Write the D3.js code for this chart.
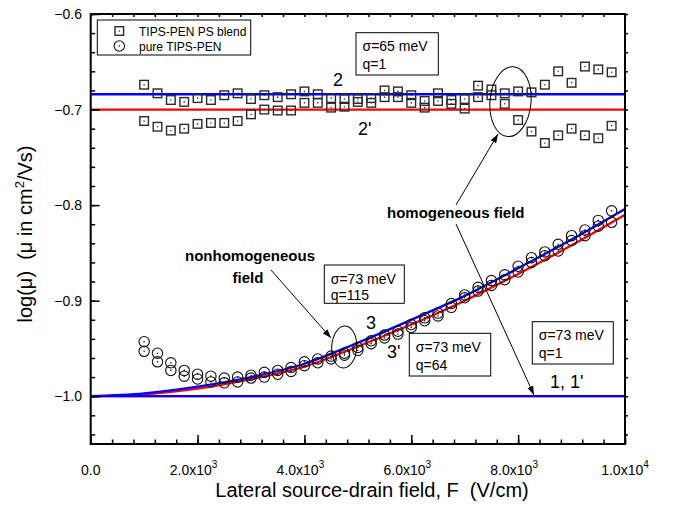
<!DOCTYPE html>
<html>
<head>
<meta charset="utf-8">
<script src="https://cdn.jsdelivr.net/npm/d3@7/dist/d3.min.js"></script>
<style>
body { margin: 0; background: #fff; }
svg { font-family: "Liberation Sans", Arial, sans-serif; }
</style>
</head>
<body>
<svg id="chart" width="673" height="505"></svg>
<script>
// measured points (field in V/cm, log mobility)
const fieldPts = [1000, 1250, 1500, 1750, 2000, 2250, 2500, 2750, 3000, 3250, 3500, 3750,
                  4000, 4250, 4500, 4750, 5000, 5250, 5500, 5750, 6000, 6250, 6500, 6750,
                  7000, 7250, 7500, 7750, 8000, 8250, 8500, 8750, 9000, 9250, 9500, 9750]

const blendUpper = [-0.674, -0.683, -0.690, -0.692, -0.688, -0.690, -0.685, -0.683, -0.689, -0.685, -0.687, -0.684,
                    -0.681, -0.684, -0.688, -0.689, -0.689, -0.688, -0.680, -0.681, -0.685, -0.691, -0.683, -0.690,
                    -0.689, -0.675, -0.679, -0.683, -0.681, -0.682, -0.674, -0.660, -0.672, -0.655, -0.658, -0.661]
const blendLower = [-0.712, -0.718, -0.722, -0.720, -0.715, -0.714, -0.714, -0.712, -0.705, -0.700, -0.701, -0.701,
                    -0.693, -0.693, -0.698, -0.697, -0.692, -0.693, -0.687, -0.687, -0.693, -0.698, -0.691, -0.694,
                    -0.699, -0.687, -0.685, -0.694, -0.711, -0.723, -0.735, -0.727, -0.720, -0.727, -0.730, -0.717]

const pureUpper = [-0.943, -0.955, -0.965, -0.973, -0.977, -0.979, -0.981, -0.980, -0.978, -0.975, -0.973, -0.970,
                   -0.964, -0.961, -0.958, -0.955, -0.949, -0.942, -0.936, -0.932, -0.925, -0.918, -0.913, -0.903,
                   -0.894, -0.886, -0.879, -0.873, -0.864, -0.855, -0.849, -0.841, -0.832, -0.826, -0.816, -0.806]
const pureLower = [-0.953, -0.964, -0.973, -0.979, -0.982, -0.985, -0.986, -0.985, -0.981, -0.980, -0.977, -0.974,
                   -0.968, -0.965, -0.961, -0.957, -0.952, -0.945, -0.939, -0.935, -0.928, -0.921, -0.916, -0.907,
                   -0.897, -0.890, -0.884, -0.878, -0.870, -0.860, -0.853, -0.848, -0.837, -0.832, -0.822, -0.818]

// model curves
const fitField = [0, 1000, 2000, 3000, 4000, 5000, 6000, 7000, 8000, 9000, 10000]
const fit3  = [-1.000, -0.997, -0.990, -0.980, -0.966, -0.944, -0.920, -0.895, -0.866, -0.836, -0.804]
const fit3p = [-1.000, -0.998, -0.992, -0.982, -0.969, -0.948, -0.925, -0.900, -0.872, -0.842, -0.810]
const flatEnds = [0, 10000]
const flat2 = -0.684
const flat2p = -0.700
const flat1 = -1.000

// ticks
const xMajor = [0, 2000, 4000, 6000, 8000, 10000]
const xMant = ["0.0", "2.0x10", "4.0x10", "6.0x10", "8.0x10", "1.0x10"]
const xExp = ["", "3", "3", "3", "3", "4"]
const yMajor = [-1.0, -0.9, -0.8, -0.7, -0.6]
const yLabels = ["-1.0", "-0.9", "-0.8", "-0.7", "-0.6"]

const svg = d3.select("#chart")
const x = d3.scaleLinear().domain([0, 10000]).range([90.7, 625])
const y = d3.scaleLinear().domain([-1.05, -0.6]).range([444, 14])

svg.append("defs").append("marker")
  .attr("id", "arr")
  .attr("viewBox", "0 0 10 10")
  .attr("refX", 10).attr("refY", 5)
  .attr("markerWidth", 9).attr("markerHeight", 9)
  .attr("markerUnits", "userSpaceOnUse")
  .attr("orient", "auto")
  .append("path").attr("d", "M0,1.5 L10,5 L0,8.5 Z").attr("fill", "#000")

// lines
const line = d3.line().x(d => x(d[0])).y(d => y(d[1])).curve(d3.curveMonotoneX)
const drawLine = (pts, col) => svg.append("path").datum(pts)
  .attr("d", line).attr("fill", "none").attr("stroke", col).attr("stroke-width", 2.3)

drawLine(flatEnds.map(f => [f, flat2p]), "#ff0000")
drawLine(flatEnds.map(f => [f, flat2]), "#0000ff")
drawLine(fitField.map((f, i) => [f, fit3p[i]]), "#ff0000")
drawLine(fitField.map((f, i) => [f, fit3[i]]), "#0000ff")
drawLine(flatEnds.map(f => [f, flat1]), "#ff0000")
drawLine(flatEnds.map(f => [f, flat1]), "#0000ff")

// symbols
const squares = svg.append("g")
function square(g, cx, cy) {
  g.append("rect").attr("x", cx - 4.3).attr("y", cy - 4.3).attr("width", 8.6).attr("height", 8.6)
    .attr("fill", "none").attr("stroke", "#2a2a2a").attr("stroke-width", 1.4)
  g.append("circle").attr("cx", cx).attr("cy", cy).attr("r", 0.8).attr("fill", "#333")
}
function ring(g, cx, cy) {
  g.append("circle").attr("cx", cx).attr("cy", cy).attr("r", 5.2)
    .attr("fill", "none").attr("stroke", "#111").attr("stroke-width", 1.1)
  g.append("circle").attr("cx", cx).attr("cy", cy).attr("r", 0.8).attr("fill", "#111")
}
fieldPts.forEach((f, i) => {
  square(squares, x(f), y(blendUpper[i]))
  square(squares, x(f), y(blendLower[i]))
  ring(squares, x(f), y(pureUpper[i]))
  ring(squares, x(f), y(pureLower[i]))
})

// axes (ticks pointing inward)
const xMinor = d3.range(0, 10001, 400)
const yMinor = d3.range(-1.04, -0.599, 0.02)
const axG = svg.append("g")
axG.append("g").attr("transform", "translate(0,444)")
  .call(d3.axisBottom(x).tickValues(xMinor).tickSize(-4.5).tickFormat(""))
axG.append("g").attr("transform", "translate(0,444)")
  .call(d3.axisBottom(x).tickValues(xMajor).tickSize(-9).tickFormat(""))
axG.append("g").attr("transform", "translate(0,14)")
  .call(d3.axisTop(x).tickValues(xMinor).tickSize(-3).tickFormat(""))
axG.append("g").attr("transform", "translate(90.7,0)")
  .call(d3.axisLeft(y).tickValues(yMinor).tickSize(-4.5).tickFormat(""))
axG.append("g").attr("transform", "translate(90.7,0)")
  .call(d3.axisLeft(y).tickValues(yMajor).tickSize(-9).tickFormat(""))
axG.append("g").attr("transform", "translate(625,0)")
  .call(d3.axisRight(y).tickValues(yMinor).tickSize(3).tickFormat(""))
axG.selectAll(".domain").remove()
axG.selectAll(".tick line").attr("stroke", "#000").attr("stroke-width", 1.5)

svg.append("rect").attr("x", 90.7).attr("y", 14).attr("width", 625 - 90.7).attr("height", 430)
  .attr("fill", "none").attr("stroke", "#000").attr("stroke-width", 2)

// tick labels
xMajor.forEach((v, i) => {
  const shift = (i > 0 && i < 5) ? -4 : 0
  const t = svg.append("text").attr("x", x(v) + shift).attr("y", 475).attr("text-anchor", "middle")
    .attr("font-size", 14).text(xMant[i])
  if (xExp[i]) t.append("tspan").attr("dy", -7).attr("font-size", 10).text(xExp[i])
})
yMajor.forEach((v, i) => {
  svg.append("text").attr("x", 82).attr("y", y(v) + 5).attr("text-anchor", "end")
    .attr("font-size", 14).text(yLabels[i].replace("-", "\u2212"))
})

// axis titles
svg.append("text").attr("x", 372).attr("y", 497).attr("text-anchor", "middle")
  .attr("font-size", 20).attr("xml:space", "preserve")
  .text("Lateral source-drain field, F  (V/cm)")
const yt = svg.append("text").attr("transform", "translate(32,234) rotate(-90)")
  .attr("text-anchor", "middle").attr("font-size", 20).attr("xml:space", "preserve")
yt.append("tspan").text("log(\u03bc)  (\u03bc in cm")
yt.append("tspan").attr("dy", -8).attr("font-size", 13).text("2")
yt.append("tspan").attr("dy", 8).text("/Vs)")

// legend
svg.append("rect").attr("x", 97.3).attr("y", 20).attr("width", 153.4).attr("height", 35)
  .attr("fill", "#fff").attr("stroke", "#000").attr("stroke-width", 1)
const lg = svg.append("g")
square(lg, 119.3, 31)
ring(lg, 119.3, 46)
lg.append("text").attr("x", 139).attr("y", 35.5).attr("font-size", 12).text("TIPS-PEN PS blend")
lg.append("text").attr("x", 139).attr("y", 50.5).attr("font-size", 12).text("pure TIPS-PEN")

// parameter boxes
const boxes = [
  {x: 356, y: 32.7, w: 82.3, h: 42.3, l1: "\u03c3=65 meV", l2: "q=1", b1: 50.5, b2: 68.5},
  {x: 324.3, y: 265, w: 80, h: 38.3, l1: "\u03c3=73 meV", l2: "q=115", b1: 283.5, b2: 300},
  {x: 409.3, y: 333.3, w: 81.4, h: 42.7, l1: "\u03c3=73 meV", l2: "q=64", b1: 352, b2: 370},
  {x: 532.3, y: 321.7, w: 81, h: 42.3, l1: "\u03c3=73 meV", l2: "q=1", b1: 340, b2: 358}
]
boxes.forEach(b => {
  svg.append("rect").attr("x", b.x).attr("y", b.y).attr("width", b.w).attr("height", b.h)
    .attr("fill", "#fff").attr("stroke", "#000").attr("stroke-width", 1)
  svg.append("text").attr("x", b.x + 6.5).attr("y", b.b1).attr("font-size", 14).text(b.l1)
  svg.append("text").attr("x", b.x + 6.5).attr("y", b.b2).attr("font-size", 14).text(b.l2)
})

// curve labels
const labs = [["2", 333, 86], ["2'", 358, 135], ["3", 366, 329], ["3'", 387, 358], ["1, 1'", 550, 388]]
labs.forEach(l => svg.append("text").attr("x", l[1]).attr("y", l[2]).attr("font-size", 18)
  .attr("xml:space", "preserve").text(l[0]))

// ellipses
svg.append("ellipse").attr("transform", "translate(510.5,101.7) rotate(5)")
  .attr("rx", 20.5).attr("ry", 35).attr("fill", "none").attr("stroke", "#000").attr("stroke-width", 1)
svg.append("ellipse").attr("transform", "translate(344.2,347) rotate(3)")
  .attr("rx", 12.5).attr("ry", 21).attr("fill", "none").attr("stroke", "#000").attr("stroke-width", 1)

// arrows
const arrows = [[456, 205, 498, 134], [456, 224, 534, 395], [271, 270, 331, 338]]
arrows.forEach(a => svg.append("line").attr("x1", a[0]).attr("y1", a[1]).attr("x2", a[2]).attr("y2", a[3])
  .attr("stroke", "#000").attr("stroke-width", 1).attr("marker-end", "url(#arr)"))

// bold annotations
svg.append("text").attr("x", 387).attr("y", 218).attr("font-size", 15).attr("font-weight", "bold")
  .text("homogeneous field")
svg.append("text").attr("x", 250).attr("y", 261).attr("font-size", 15).attr("font-weight", "bold")
  .attr("text-anchor", "middle").text("nonhomogeneous")
svg.append("text").attr("x", 248).attr("y", 283).attr("font-size", 15).attr("font-weight", "bold")
  .attr("text-anchor", "middle").text("field")
</script>
</body>
</html>
